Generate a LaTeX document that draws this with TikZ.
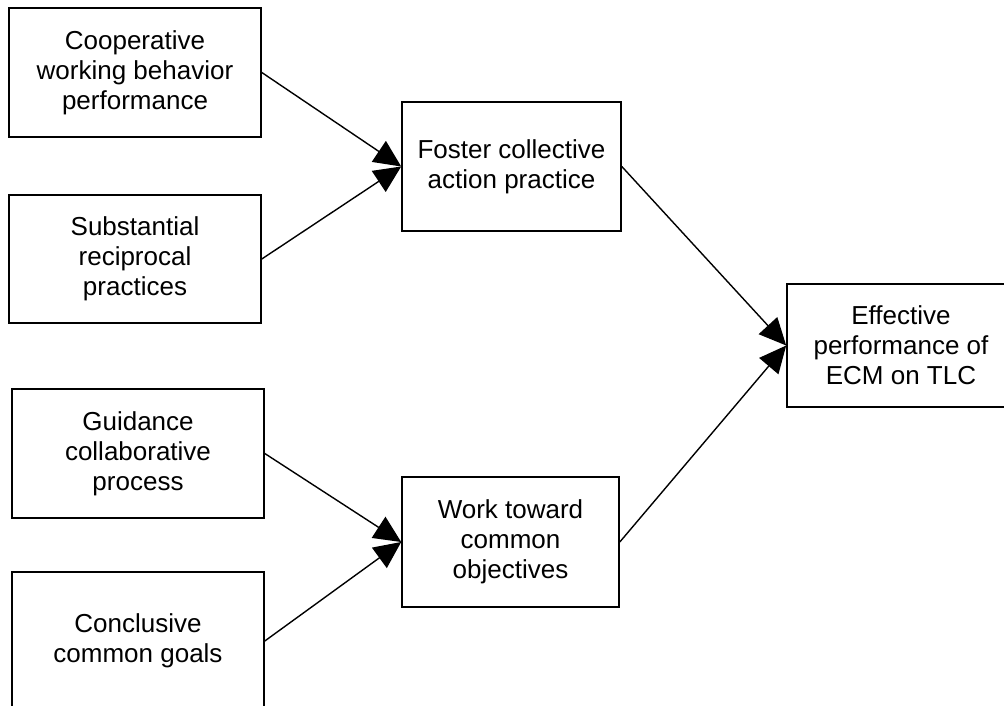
\documentclass[tikz,border=0pt]{standalone}
\usepackage{fontspec}
\setmainfont{Liberation Sans}
\usetikzlibrary{arrows.meta}
\begin{document}
\begin{tikzpicture}[x=1pt,y=-1pt,
  box/.style={draw, line width=1.6pt, fill=white, inner sep=0pt, align=center,
    font=\fontsize{26}{30}\selectfont},
  link/.style={line width=1.4pt, -{Triangle[length=27pt,width=25pt]}}]
\useasboundingbox (0,0) rectangle (1004,706);
\fill[white] (0,0) rectangle (1004,706);
\begin{scope}
\clip (0,0) rectangle (1004,706);
% input factors
\node[box, minimum width=252pt, minimum height=129pt] (coop) at (135,72.5)
  {Cooperative\\working behavior\\performance};
\node[box, minimum width=252pt, minimum height=128pt] (subst) at (135,259)
  {Substantial\\reciprocal\\practices};
\node[box, minimum width=252pt, minimum height=129pt] (guide) at (138,453.5)
  {Guidance\\collaborative\\process};
\node[box, minimum width=252pt, minimum height=138pt] (concl) at (138,641)
  {Conclusive\\common goals};
% intermediate factors
\node[box, minimum width=219pt, minimum height=129pt] (foster) at (511.5,166.5)
  {Foster collective\\action practice};
\node[box, minimum width=217pt, minimum height=130pt] (work) at (510.5,542)
  {Work toward\\common\\objectives};
% outcome
\node[box, minimum width=228pt, minimum height=123pt] (effect) at (901,345.5)
  {Effective\\performance of\\ECM on TLC};
% connectors
\draw[link] (coop.east) -- (foster.west);
\draw[link] (subst.east) -- (foster.west);
\draw[link] (guide.east) -- (work.west);
\draw[link] (concl.east) -- (work.west);
\draw[link] (foster.east) -- (effect.west);
\draw[link] (work.east) -- (effect.west);
\end{scope}
\end{tikzpicture}
\end{document}
